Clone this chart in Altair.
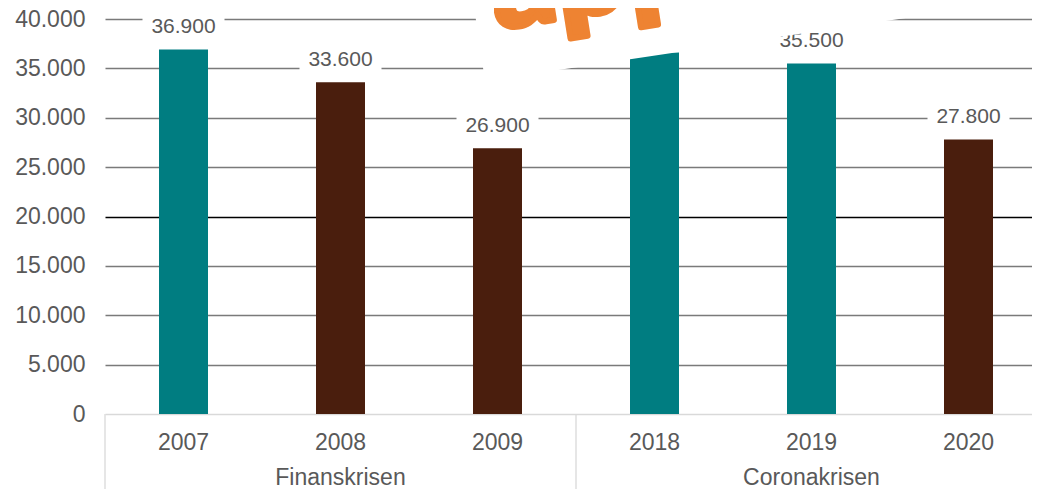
import altair as alt
import pandas as pd

# ---- data ----
years = ["2007", "2008", "2009", "2018", "2019", "2020"]
values = [36900, 33600, 26900, 36600, 35500, 27800]
crisis = ["Finanskrisen", "Finanskrisen", "Finanskrisen",
          "Coronakrisen", "Coronakrisen", "Coronakrisen"]
phase = ["Før krisen", "Krise", "Krise", "Før krisen", "Før krisen", "Krise"]

group_names = ["Finanskrisen", "Coronakrisen"]
group_center_year = ["2008", "2019"]

y_ticks = [0, 5000, 10000, 15000, 20000, 25000, 30000, 35000, 40000]

TEAL = "#007D81"
BROWN = "#4A1E0D"
TEXT = "#595959"
FONT = "Liberation Sans"

df = pd.DataFrame({"year": years, "value": values, "crisis": crisis, "phase": phase})
df["label"] = df["value"].map(lambda v: f"{v:,}".replace(",", "."))

groups_df = pd.DataFrame({"group": group_names, "year": group_center_year})
sep_left_df = pd.DataFrame({"year": [years[0], years[3]]})

W = 927   # visible plot width in px (page edge)
H = 395   # plot height in px

x_scale = alt.Scale(domain=years, paddingInner=0, paddingOuter=0, range=[0, 942])
y_scale = alt.Scale(domain=[0, 40000])

base = alt.Chart(df)

bars = base.mark_bar(size=49).encode(
    x=alt.X("year:N", scale=x_scale, sort=years,
            axis=alt.Axis(title=None, labelAngle=0, ticks=False, tickSize=0,
                          domainColor="#D9D9D9", domainWidth=1.3,
                          labelFont=FONT, labelFontSize=23, labelColor=TEXT,
                          labelBaseline="middle", labelPadding=28)),
    y=alt.Y("value:Q", scale=y_scale,
            axis=alt.Axis(title=None, values=y_ticks, domain=False, ticks=False,
                          labelExpr="replace(format(datum.value, ','), ',', '.')",
                          labelFont=FONT, labelFontSize=23, labelColor=TEXT,
                          labelPadding=20,
                          gridColor={"condition": {"test": "datum.value === 20000", "value": "#000000"},
                                     "value": "#7A7A7A"},
                          gridOpacity={"condition": {"test": "datum.value === 0", "value": 0},
                                       "value": 1},
                          gridWidth=1.3)),
    color=alt.Color("phase:N", scale=alt.Scale(domain=["Før krisen", "Krise"], range=[TEAL, BROWN]),
                    legend=None),
)

label_boxes = base.mark_point(
    shape="M-41,-11H41V11H-41Z", size=4, filled=True, color="white",
    opacity=1, strokeWidth=0, yOffset=-22.5,
).encode(x=alt.X("year:N", scale=x_scale, sort=years), y=alt.Y("value:Q", scale=y_scale))

labels = base.mark_text(
    dy=-22.5, baseline="middle", align="center", font=FONT, fontSize=21, color=TEXT
).encode(x=alt.X("year:N", scale=x_scale, sort=years), y=alt.Y("value:Q", scale=y_scale),
         text="label:N")

sep_left = alt.Chart(sep_left_df).mark_rule(color="#D9D9D9", strokeWidth=1.3).encode(
    x=alt.X("year:N", scale=x_scale, sort=years, bandPosition=0),
    y=alt.value(H), y2=alt.value(H + 90))

group_labels = alt.Chart(groups_df).mark_text(
    baseline="middle", align="center", font=FONT, fontSize=23, color=TEXT
).encode(x=alt.X("year:N", scale=x_scale, sort=years), y=alt.value(H + 64), text="group:N")

# white cut-out piece of an overlapping picture (top of the reference)
overlay = alt.Chart(groups_df.head(1)).mark_point(
    shape="M0,-30L0,0L12,81L553,0L553,-30Z", size=4, filled=True, color="white",
    opacity=1, strokeWidth=0,
).encode(x=alt.value(368), y=alt.value(-19))

overlay_text = alt.Chart(groups_df.head(1)).mark_text(
    align="left", baseline="alphabetic", font="Lato", fontWeight=900,
    fontSize=125, color="#EE8332", stroke="#EE8332", strokeWidth=6, strokeJoin="round",
    angle=351,
).encode(x=alt.value(392), y=alt.value(10), text=alt.value("app"))

chart = alt.layer(
    bars, label_boxes, labels, sep_left, group_labels, overlay, overlay_text
).properties(
    width=W, height=H,
    autosize=alt.AutoSizeParams(type="none"),
    padding={"left": 97, "top": 11, "right": 0, "bottom": 75},
    background="white",
).configure_view(stroke=None)

chart.save("out.html", embed_options={"renderer": "svg", "actions": False})
